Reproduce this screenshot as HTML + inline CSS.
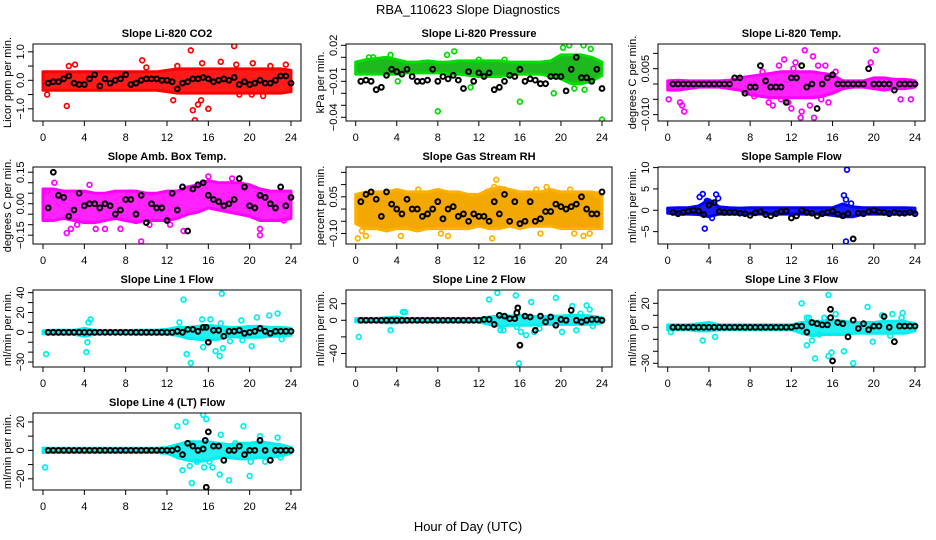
<!DOCTYPE html>
<html><head><meta charset="utf-8"><style>
html,body{margin:0;padding:0;background:#fff;}
svg{display:block;font-family:"Liberation Sans",Arial,sans-serif;}
</style></head><body>
<svg id="chart" width="936" height="540" viewBox="0 0 936 540" xmlns="http://www.w3.org/2000/svg">
<rect width="936" height="540" fill="#fff"/>
<text x="468" y="14" text-anchor="middle" font-size="13">RBA_110623  Slope Diagnostics</text>
<text x="468" y="531" text-anchor="middle" font-size="13">Hour of Day (UTC)</text>
<g id="panels"></g>
</svg>
<script>
const xTicks=[0,4,8,12,16,20,24];
const bandHours=[0,1,2,3,4,5,6,7,8,9,10,11,12,13,14,15,16,17,18,19,20,21,22,23,24];

const p1Black=[-0.1,-0.05,-0.05,0.05,0.15,-0.1,-0.15,-0.15,0.05,0.2,-0.2,0.05,-0.1,0.0,0.05,0.2,-0.15,-0.1,0,0.05,0.05,0.05,0,0,-0.05,-0.3,-0.1,-0.05,0.05,0.05,0.1,0.05,-0.05,0,0.05,0,0.1,-0.15,-0.05,-0.15,-0.1,0,-0.1,-0.1,0,0.15,0.15,-0.1];
const p1Hi=[0.3,0.3,0.3,0.3,0.3,0.3,0.3,0.3,0.3,0.3,0.3,0.3,0.35,0.4,0.4,0.4,0.4,0.4,0.4,0.4,0.4,0.4,0.4,0.4,0.35];
const p1Lo=[-0.35,-0.35,-0.35,-0.35,-0.35,-0.35,-0.35,-0.35,-0.35,-0.35,-0.35,-0.35,-0.4,-0.45,-0.45,-0.45,-0.45,-0.45,-0.45,-0.45,-0.45,-0.45,-0.45,-0.45,-0.4];
const p1OutX=[2.3,2.5,3.1,9.6,12.6,13,14.3,14.5,14.7,15,15.3,16,15.4,17.2,18.5,18.7,20.3,21.3,22,23.5,0.4,10,19,20.2];
const p1OutY=[-0.9,0.5,0.55,0.7,-0.7,0.5,1.05,-1.05,-1.4,-0.85,-0.7,-1.0,0.6,0.65,1.2,0.55,0.6,-0.55,0.5,0.55,-0.5,0.45,-0.5,-0.5];

const p2Black=[-0.01,-0.009,-0.01,-0.017,-0.015,-0.005,0.0,-0.002,-0.004,0.0,-0.006,-0.01,-0.01,-0.009,0.0,-0.01,-0.006,-0.008,-0.005,-0.009,-0.016,-0.002,-0.01,-0.003,-0.006,-0.003,-0.017,-0.015,-0.01,-0.005,-0.006,0.0,-0.01,-0.008,-0.009,-0.012,-0.012,-0.006,-0.006,-0.006,-0.018,0.0,0.01,-0.007,-0.007,-0.01,0.0,-0.016];
const p2Hi=[0.006,0.008,0.009,0.01,0.008,0.006,0.006,0.007,0.006,0.006,0.007,0.007,0.007,0.007,0.007,0.006,0.006,0.006,0.006,0.007,0.012,0.012,0.012,0.01,0.006];
const p2Lo=[-0.004,-0.004,-0.004,-0.004,-0.004,-0.003,-0.003,-0.003,-0.003,-0.004,-0.004,-0.005,-0.006,-0.006,-0.006,-0.005,-0.004,-0.004,-0.004,-0.006,-0.008,-0.012,-0.012,-0.01,-0.005];
const p2OutX=[8,16,19.3,24,9.6,20.2,20.8,22.2,22.9,1.3,1.7,3.4,4.1,11.2,21.3,22.3,8.9,12,14.5];
const p2OutY=[-0.035,-0.027,-0.02,-0.042,0.015,0.018,0.02,0.02,0.017,0.01,0.01,0.012,-0.01,-0.015,-0.016,-0.017,0.012,0.008,0.008];

const p3Black=[0,0,0,0,0,0,0,0,0,0,0,0,0.002,0.002,-0.003,-0.001,-0.001,0.006,0.001,-0.001,-0.001,-0.001,-0.006,0.002,0.002,0.006,-0.001,0.0,-0.008,0.0,0.002,0.003,0,0,0,0,0,0,0.005,0,0,0,0,-0.002,0,0,0,0];
const p3Hi=[0.001,0.0012,0.001,0.001,0.001,0.001,0.0012,0.002,0.0025,0.003,0.0035,0.004,0.004,0.004,0.004,0.0035,0.003,0.001,0.001,0.001,0.002,0.002,0.0015,0.0015,0.001];
const p3Lo=[-0.002,-0.002,-0.0015,-0.001,-0.001,-0.001,-0.0015,-0.002,-0.0035,-0.004,-0.0045,-0.0045,-0.0045,-0.0045,-0.0045,-0.004,-0.003,-0.0015,-0.001,-0.001,-0.0015,-0.002,-0.0015,-0.0015,-0.001];
const p3OutX=[0.1,1.2,1.4,1.6,13.3,12.9,14.2,20.2,19.7,22.6,23.6,14.1,11.3,10.2,12,15.3,9.2,10.8,11.7,12.4,13.8,14.6,15.6,16.3,8.4,9.8,11.0,12.2,13.0,14.9];
const p3OutY=[-0.005,-0.006,-0.007,-0.009,0.011,-0.011,-0.011,0.011,0.007,-0.005,-0.005,0.009,0.008,-0.007,-0.008,0.006,0.004,0.006,-0.006,0.007,-0.007,0.006,-0.006,0.004,-0.004,-0.006,-0.005,0.005,-0.009,-0.005];

const p4Black=[-0.02,0.15,0.04,0.03,-0.06,-0.03,0.05,-0.01,0.0,0.0,-0.02,0.0,-0.01,-0.05,-0.03,0.02,0.02,-0.05,0.04,-0.09,0.0,-0.02,-0.02,-0.08,0.05,-0.03,0.08,-0.13,0.07,0.09,0.1,0.04,0.02,0.01,-0.01,0.0,0.02,0.12,0.08,-0.01,-0.02,0.04,0.03,0.0,-0.02,0.08,-0.01,0.03];
const p4Hi=[0.07,0.07,0.06,0.06,0.06,0.05,0.05,0.06,0.06,0.06,0.05,0.05,0.06,0.06,0.08,0.09,0.11,0.1,0.1,0.1,0.09,0.07,0.06,0.06,0.06];
const p4Lo=[-0.08,-0.08,-0.07,-0.08,-0.09,-0.09,-0.08,-0.07,-0.08,-0.09,-0.08,-0.08,-0.08,-0.07,-0.05,-0.04,-0.02,-0.03,-0.04,-0.05,-0.06,-0.08,-0.08,-0.08,-0.07];
const p4OutX=[1.1,2.3,2.7,3.3,5.1,9.5,13.6,16,18.3,21,21,0.4,6,7.5,10.3,12.3,23.3,4.5];
const p4OutY=[0.1,-0.14,-0.12,-0.1,-0.12,-0.18,-0.13,0.13,0.12,-0.12,-0.15,0.06,-0.12,-0.12,-0.1,-0.1,-0.08,0.09];

const p5Black=[0.03,0.06,0.07,0.04,-0.03,0.07,0.02,0.0,-0.02,0.04,0.0,0.0,-0.03,-0.02,0.0,0.03,-0.04,0.0,0.01,-0.03,-0.02,-0.05,-0.02,-0.03,-0.03,-0.05,0.03,-0.02,0.06,-0.05,0.03,-0.06,-0.05,0.03,-0.05,-0.04,-0.01,-0.01,0.02,0.01,0.0,0.01,0.02,0.05,0.0,-0.02,-0.02,0.07];
const p5Hi=[0.06,0.07,0.07,0.07,0.08,0.07,0.07,0.07,0.08,0.07,0.07,0.06,0.06,0.08,0.09,0.08,0.07,0.07,0.07,0.08,0.07,0.07,0.07,0.07,0.06];
const p5Lo=[-0.06,-0.08,-0.08,-0.09,-0.08,-0.08,-0.09,-0.08,-0.08,-0.08,-0.08,-0.08,-0.07,-0.08,-0.08,-0.07,-0.08,-0.07,-0.07,-0.07,-0.08,-0.08,-0.08,-0.08,-0.08];
const p5OutX=[0.2,0.6,1,4.4,6.1,8.3,9,13.3,13.7,13.5,14.5,17.6,18.6,18,21.3,22.2,22.8,20.9,12.8,2.1,23.5];
const p5OutY=[-0.12,-0.09,-0.11,-0.11,0.08,-0.1,-0.11,-0.12,0.12,0.09,0.08,0.08,0.09,-0.1,-0.1,-0.11,-0.1,0.08,0.07,0.06,0.06];

const p6Black=[-0.5,-0.8,-0.5,-0.2,0,-0.2,-1,1.2,1.8,-0.3,-0.5,-0.5,-0.5,-0.7,-0.8,-1.2,-0.6,-0.3,-1,-1.3,-0.8,-0.3,-0.2,-1.8,-1.3,0,-0.5,-0.7,-1.3,-0.8,-0.5,-0.2,-0.9,-1.3,-0.8,-6.7,-0.7,-0.8,-0.3,0,-0.4,-0.5,-0.8,-0.5,-0.7,-0.7,-0.5,-0.8];
const p6Hi=[0.5,0.6,0.6,1,2.5,0.8,0.6,0.5,0.6,0.6,0.6,0.6,0.6,0.6,0.6,0.6,0.6,1.5,0.8,0.6,0.6,0.6,0.6,0.6,0.5];
const p6Lo=[-0.7,-0.9,-0.9,-1,-1.5,-0.9,-0.9,-0.9,-0.9,-0.9,-0.9,-0.9,-0.9,-0.9,-0.9,-0.9,-1.2,-1.5,-1.5,-0.9,-0.9,-0.9,-0.9,-0.9,-0.7];
const p6OutX=[3.1,3.4,3.6,4.7,4.9,4.3,17.1,17.3,17.4,17.3,17.8,3.8,4.0];
const p6OutY=[3.1,3.8,-4.3,3.7,2.8,-1.8,3.5,2.5,9.5,-7.3,1.6,2.2,2.0];

const p7Black=[0,0,0,0,0,0,0,0,0,0,0,0,0,0,0,0,0,0,0,0,0,0,0,0,0,1,0,3,3,1,5,-10,2,2,-4,1,1,2,-1,0,1,4,1,-1,1,1,1,1];
const p7Hi=[1.5,2,2,2,4,2,1.5,1.5,1.5,2,2,2,3,5,5,6,7,6,5,5,6,6,5,5,4];
const p7Lo=[-1.5,-2,-2,-2,-4,-2,-1.5,-1.5,-1.5,-2,-2,-2,-2,-3,-6,-7,-8,-7,-4,-5,-5,-5,-4,-4,-3];
const p7OutX=[0.3,4.2,4.3,4.4,4.6,13.6,14.3,13.9,15.4,16.2,16.7,17.1,17.3,17.4,17.2,19.2,20.2,21.9,22.7,23.1,20.7,15.5,18.1,19.3,13.2];
const p7OutY=[-22,-20,-10,10,13,33,-31,-22,13,13,-19,-24,39,-16,9,12,-14,17,19,-7,15,-15,-9,-8,10];

const p8Black=[0,0,0,0,0,0,0,0,0,0,0,0,0,0,0,0,0,0,0,0,0,0,0,0,1,1,-5,6,5,2,2,-30,5,4,-12,5,-2,4,-6,1,0,12,0,-2,0,1,1,0];
const p8Hi=[2,2,2,3,4,2,2,2,2,2,2,2,2,4,5,5,6,5,4,5,5,6,6,5,3];
const p8Lo=[-2,-2,-2,-3,-3,-2,-2,-2,-2,-2,-2,-2,-2,-5,-7,-6,-6,-6,-5,-5,-5,-5,-5,-5,-3];
const p8OutX=[0.3,3.4,4.6,4.8,13,13.8,14.1,15.6,15.7,15.9,16.1,16.6,17.1,17.4,19.5,20.1,21.1,21.5,22.5,22.8,23.1,14.4,17.9,21.9];
const p8OutY=[-20,-12,10,10,25,33,-12,30,-8,-52,-14,-18,22,-14,27,-14,17,-12,18,13,-7,-12,-10,8];

const p9Black=[0,0,0,0,0,0,0,0,0,0,0,0,0,0,0,0,0,0,0,0,0,0,0,0,1,1,-4,4,3,2,2,-28,4,3,-8,6,-1,3,-2,1,1,9,0,-12,1,1,1,1];
const p9Hi=[2,2,2,3,4,2,2,2,2,2,2,2,2,4,5,5,6,5,4,4,4,5,5,5,3];
const p9Lo=[-2,-2,-2,-3,-3,-2,-2,-2,-2,-2,-2,-2,-2,-5,-7,-6,-6,-6,-5,-5,-5,-5,-5,-5,-3];
const p9OutX=[0.3,3.4,4.6,13,13.5,13.5,14,14.3,15.6,15.6,15.9,16.3,17.1,18,19.4,19.9,20.8,21.6,21.8,22.8,22.7,14.7,13.7,15.2];
const p9OutY=[-4,-11,-8,20,8,-15,-11,-26,27,-24,-21,11,-20,-30,17,-12,10,-7,11,12,8,-6,8,8];

const p10Black=[0,0,0,0,0,0,0,0,0,0,0,0,0,0,0,0,0,0,0,0,0,0,0,0,0,1,-3,5,3,0,1,13,3,3,-7,0,0,3,-3,0,0,7,0,-7,0,0,0,0];
const p10Hi=[1.5,1.5,1.5,1.5,1.5,1.5,1.5,1.5,1.5,1.5,1.5,1.5,2,4,6,6,6,5,4,5,5,6,5,4,2];
const p10Lo=[-1.5,-1.5,-1.5,-1.5,-1.5,-1.5,-1.5,-1.5,-1.5,-1.5,-1.5,-1.5,-2,-5,-7,-8,-7,-5,-5,-6,-6,-5,-5,-4,-2];
const p10OutX=[0.2,13,13.5,13.8,14.2,14.4,15.5,15.8,15.6,16.4,17.1,17.2,18,19.4,20,20.1,21,21.5,22.7,23,14.9,16.1,18.6];
const p10OutY=[-12,17,-14,20,-11,-23,25,22,-12,-12,-17,11,-21,17,-18,-8,10,-8,9,-5,-8,-8,5];

const extraBlackX7=[15.8];const extraBlackY7=[5];
const extraBlackX8=[15.8,15.7];const extraBlackY8=[15,9];
const extraBlackX9=[15.8,15.8];const extraBlackY9=[15,8];
const extraBlackX10=[15.8,15.7];const extraBlackY10=[-26,7];

const panels=[
 {id:'co2',title:'Slope Li-820 CO2',ylab:'Licor ppm per min.',col:0,row:0,dom:[-1.428,1.274],ticks:[-1,-0.5,0,0.5,1],labs:['\u22121.0','','0.0','','1.0'],color:'#ff0000',band:'#ff1a1a',black:p1Black,hi:p1Hi,lo:p1Lo,ox:p1OutX,oy:p1OutY,ex:[],ey:[]},
 {id:'pressure',title:'Slope Li-820 Pressure',ylab:'kPa per min.',col:1,row:0,dom:[-0.0431,0.0211],ticks:[-0.04,-0.03,-0.02,-0.01,0,0.01,0.02],labs:['\u22120.04','','','\u22120.01','','','0.02'],color:'#00dd00',band:'#1fb81f',black:p2Black,hi:p2Hi,lo:p2Lo,ox:p2OutX,oy:p2OutY,ex:[],ey:[]},
 {id:'temp',title:'Slope Li-820 Temp.',ylab:'degrees C per min.',col:2,row:0,dom:[-0.01207,0.01305],ticks:[-0.01,-0.005,0,0.005,0.01],labs:['\u22120.010','','','0.005',''],color:'#ff00ff',band:'#ff22ff',black:p3Black,hi:p3Hi,lo:p3Lo,ox:p3OutX,oy:p3OutY,ex:[],ey:[]},
 {id:'ambtemp',title:'Slope Amb. Box Temp.',ylab:'degrees C per min.',col:0,row:1,dom:[-0.192,0.175],ticks:[-0.15,-0.1,-0.05,0,0.05,0.1,0.15],labs:['\u22120.15','','','0.00','','','0.15'],color:'#ff00ff',band:'#ff22ff',black:p4Black,hi:p4Hi,lo:p4Lo,ox:p4OutX,oy:p4OutY,ex:[],ey:[]},
 {id:'rh',title:'Slope Gas Stream RH',ylab:'percent per min.',col:1,row:1,dom:[-0.143,0.172],ticks:[-0.1,-0.05,0,0.05,0.1,0.15],labs:['\u22120.10','','','0.05','',''],color:'#ffb000',band:'#f2a800',black:p5Black,hi:p5Hi,lo:p5Lo,ox:p5OutX,oy:p5OutY,ex:[],ey:[]},
 {id:'sampleflow',title:'Slope Sample Flow',ylab:'ml/min per min.',col:2,row:1,dom:[-7.9,10.14],ticks:[-5,0,5,10],labs:['\u22125','0','5','10'],color:'#0000ff',band:'#1a1aff',black:p6Black,hi:p6Hi,lo:p6Lo,ox:p6OutX,oy:p6OutY,ex:[],ey:[]},
 {id:'line1',title:'Slope Line 1 Flow',ylab:'ml/min per min.',col:0,row:2,dom:[-35,42.7],ticks:[-30,-20,-10,0,10,20,30,40],labs:['\u221230','','','0','','20','','40'],color:'#00eeee',band:'#22f0f0',black:p7Black,hi:p7Hi,lo:p7Lo,ox:p7OutX,oy:p7OutY,ex:extraBlackX7,ey:extraBlackY7},
 {id:'line2',title:'Slope Line 2 Flow',ylab:'ml/min per min.',col:1,row:2,dom:[-56.3,36.5],ticks:[-40,-20,0,20],labs:['\u221240','','0','20'],color:'#00eeee',band:'#22f0f0',black:p8Black,hi:p8Hi,lo:p8Lo,ox:p8OutX,oy:p8OutY,ex:extraBlackX8,ey:extraBlackY8},
 {id:'line3',title:'Slope Line 3 Flow',ylab:'ml/min per min.',col:2,row:2,dom:[-33.1,31.1],ticks:[-30,-20,-10,0,10,20],labs:['\u221230','','','0','','20'],color:'#00eeee',band:'#22f0f0',black:p9Black,hi:p9Hi,lo:p9Lo,ox:p9OutX,oy:p9OutY,ex:extraBlackX9,ey:extraBlackY9},
 {id:'line4',title:'Slope Line 4 (LT) Flow',ylab:'ml/min per min.',col:0,row:3,dom:[-27.9,26.3],ticks:[-20,-10,0,10,20],labs:['\u221220','','0','','20'],color:'#00eeee',band:'#22f0f0',black:p10Black,hi:p10Hi,lo:p10Lo,ox:p10OutX,oy:p10OutY,ex:extraBlackX10,ey:extraBlackY10}
];
const colX=[[33,301,43,291],[346,612,355.7,602],[658,925,667.7,915]];
const rowY=[44,167,290,413];
const NS='http://www.w3.org/2000/svg';
function mk(tag,attrs,parent){const e=document.createElementNS(NS,tag);for(const k in attrs)e.setAttribute(k,attrs[k]);parent.appendChild(e);return e;}
const root=document.getElementById('panels');
panels.forEach(p=>{
  const [bl,br,x0,x24]=colX[p.col];const top=rowY[p.row],bot=top+77;
  const xs=h=>x0+(x24-x0)*h/24;
  const ys=v=>bot-(v-p.dom[0])/(p.dom[1]-p.dom[0])*(bot-top);
  const g=mk('g',{},root);
  
  
  const cl=mk('clipPath',{id:'clip-'+p.id},g);mk('rect',{x:bl,y:top,width:br-bl,height:bot-top},cl);
  const t=mk('text',{x:(bl+br)/2,y:top-7,'text-anchor':'middle','font-size':'11','font-weight':'bold'},g);t.textContent=p.title;
  
  
  const plot=mk('g',{'clip-path':'url(#clip-'+p.id+')'},g);
  
  
  let d='M'+bandHours.map((h,i)=>xs(h).toFixed(1)+','+ys(p.hi[i]).toFixed(1)).join('L');
  d+='L'+bandHours.slice().reverse().map((h,j)=>{const i=bandHours.length-1-j;return xs(h).toFixed(1)+','+ys(p.lo[i]).toFixed(1);}).join('L')+'Z';
  const band=mk('path',{d:d,fill:p.band,stroke:p.color,'stroke-width':3,'stroke-linejoin':'round'},plot);
  
  
  p.ox.forEach((h,i)=>{const c=mk('circle',{cx:xs(h),cy:ys(p.oy[i]),r:2.4,fill:'none',stroke:p.color,'stroke-width':1.7},plot);
    
    });
  p.black.forEach((v,i)=>{const c=mk('circle',{cx:xs((i+1)*0.5),cy:ys(v),r:2.4,fill:'none',stroke:'#000','stroke-width':2},plot);
    
    });
  p.ex.forEach((h,i)=>{const c=mk('circle',{cx:xs(h),cy:ys(p.ey[i]),r:2.4,fill:'none',stroke:'#000','stroke-width':2},plot);
    
    });
  const box=mk('rect',{x:bl,y:top,width:br-bl,height:bot-top,fill:'none',stroke:'#000','stroke-width':1},g);
  
  
  const xa=mk('g',{},g);
  
  
  mk('line',{x1:xs(0),x2:xs(24),y1:bot,y2:bot,stroke:'#000'},xa);
  xTicks.forEach(h=>{mk('line',{x1:xs(h),x2:xs(h),y1:bot,y2:bot+5,stroke:'#000'},xa);
    const tl=mk('text',{x:xs(h),y:bot+20,'text-anchor':'middle','font-size':'11'},xa);tl.textContent=h;});
  const ya=mk('g',{},g);
  
  
  p.ticks.forEach((v,i)=>{const y=ys(v);mk('line',{x1:bl-5,x2:bl,y1:y,y2:y,stroke:'#000'},ya);
    if(p.labs[i]){const tl=mk('text',{x:0,y:0,'text-anchor':'middle','font-size':'11',transform:'translate('+(bl-9)+','+y+') rotate(-90)'},ya);tl.textContent=p.labs[i];}});
  const yl=mk('text',{x:0,y:0,'text-anchor':'middle','font-size':'11',transform:'translate('+(bl-22)+','+((top+bot)/2)+') rotate(-90)'},g);yl.textContent=p.ylab;
  
  
});
</script>
</body></html>
